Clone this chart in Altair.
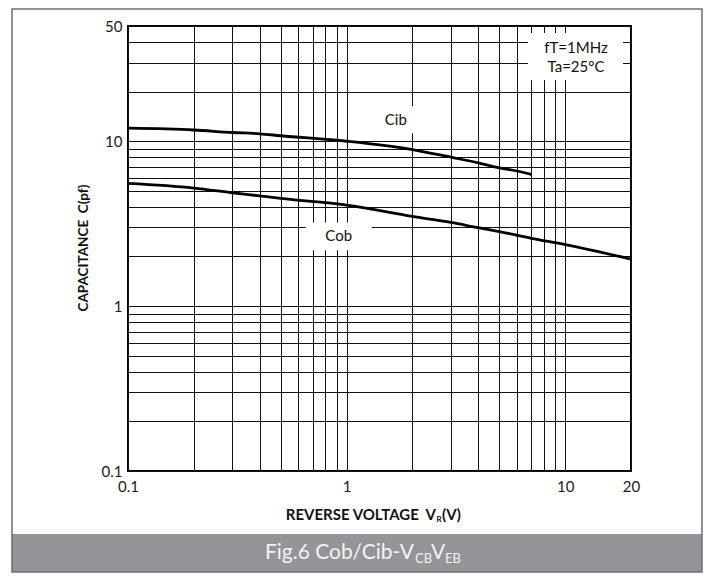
import altair as alt
import pandas as pd

# ---------------- data ----------------
cib_voltage = [0.1, 0.2, 0.3, 0.4, 0.5, 1, 2, 3, 4, 5, 6, 7]
cib_cap = [12.0, 11.7, 11.3, 11.1, 10.8, 10.0, 8.9, 8.0, 7.4, 6.9, 6.6, 6.3]

cob_voltage = [0.1, 0.2, 0.3, 0.4, 0.5, 1, 2, 3, 4, 5, 7, 10, 20]
cob_cap = [5.55, 5.2, 4.87, 4.66, 4.5, 4.1, 3.5, 3.22, 2.99, 2.83, 2.58, 2.36, 1.93]

x_domain = [0.1, 20]
y_domain = [0.1, 50]
x_grid = [0.1, 0.2, 0.3, 0.4, 0.5, 0.6, 0.7, 0.8, 0.9,
          1, 2, 3, 4, 5, 6, 7, 8, 9, 10, 20]
y_grid = [0.1, 0.2, 0.3, 0.4, 0.5, 0.6, 0.7, 0.8, 0.9,
          1, 2, 3, 4, 5, 6, 7, 8, 9, 10, 20, 30, 40, 50]
x_tick_labels = [0.1, 1, 10, 20]
y_tick_labels = [0.1, 1, 10, 50]

curve_names = ["Cib", "Cob"]
label_voltage = [1.68, 0.92]
label_cap = [13.5, 2.65]

condition_lines = ["fT=1MHz", "Ta=25\u00b0C"]
x_title = ["REVERSE VOLTAGE\u00a0\u00a0V", "R", "(V)"]
y_title = "CAPACITANCE\u00a0\u00a0C(pf)"
caption = ["Fig.6 Cob/Cib-V", "CB", "V", "EB"]

# ---------------- tables ----------------
curves = pd.concat([
    pd.DataFrame({"name": "Cib", "v": cib_voltage, "c": cib_cap}),
    pd.DataFrame({"name": "Cob", "v": cob_voltage, "c": cob_cap}),
], ignore_index=True)
labels = pd.DataFrame({"name": curve_names, "v": label_voltage, "c": label_cap})

FONT = "Lato"
W, H = 503, 445


def label_expr(vals):
    parts = [f"datum.value == {v} ? '{v:g}'" for v in vals]
    return " : ".join(parts) + " : ''"


xscale = alt.Scale(type="log", domain=x_domain, nice=False)
yscale = alt.Scale(type="log", domain=y_domain, nice=False)

common_axis = dict(title=None, ticks=False, domain=False, grid=True,
                   gridColor="#111111", gridWidth=1, gridOpacity=1,
                   labelFont=FONT, labelFontSize=15, labelColor="#1a1a1a",
                   labelFlush=False, labelOverlap=False, labelBound=False)

x_axis = alt.Axis(values=x_grid, labelExpr=label_expr(x_tick_labels),
                  labelPadding=8, **common_axis)
y_axis = alt.Axis(values=y_grid, labelExpr=label_expr(y_tick_labels),
                  labelPadding=6, **common_axis)

base = alt.Chart(curves)

lines = base.mark_line(color="black", strokeWidth=2.8, interpolate="monotone").encode(
    x=alt.X("v:Q", scale=xscale, axis=x_axis),
    y=alt.Y("c:Q", scale=yscale, axis=y_axis),
    detail="name:N",
)

one = alt.Data(values=[{"k": 1}])

# white patches behind curve labels
box_shape = "M-1,-0.56L1,-0.56L1,0.56L-1,0.56Z"
cib_box = alt.Chart(labels).transform_filter(alt.datum.name == "Cib").mark_point(
    shape=box_shape, filled=True, fill="white", opacity=1, strokeWidth=0, size=48 ** 2
).encode(x=alt.X("v:Q", scale=xscale), y=alt.Y("c:Q", scale=yscale))
cob_box_shape = "M-1,-0.42L1,-0.42L1,0.42L-1,0.42Z"
cob_box = alt.Chart(labels).transform_filter(alt.datum.name == "Cob").mark_point(
    shape=cob_box_shape, filled=True, fill="white", opacity=1, strokeWidth=0, size=66 ** 2
).encode(x=alt.X("v:Q", scale=xscale), y=alt.Y("c:Q", scale=yscale))

label_text = alt.Chart(labels).mark_text(
    font=FONT, fontSize=15, color="#111", align="center", baseline="middle"
).encode(x=alt.X("v:Q", scale=xscale), y=alt.Y("c:Q", scale=yscale), text="name:N")

# conditions box (top right)
cond_box = alt.Chart(one).mark_rect(fill="white").encode(
    x=alt.value(400), x2=alt.value(495), y=alt.value(7), y2=alt.value(54))
cond1 = alt.Chart(one).mark_text(text=condition_lines[0], font=FONT, fontSize=15,
                                 color="#111", align="center", baseline="middle").encode(
    x=alt.value(448), y=alt.value(22))
cond2 = alt.Chart(one).mark_text(text=condition_lines[1], font=FONT, fontSize=15,
                                 color="#111", align="center", baseline="middle").encode(
    x=alt.value(448), y=alt.value(41))

# axis titles
ytitle = alt.Chart(one).mark_text(text=y_title, angle=270, font=FONT, fontWeight="bold",
                                  fontSize=13.5, color="#111", align="center",
                                  baseline="middle").encode(x=alt.value(-44), y=alt.value(222))
xt1 = alt.Chart(one).mark_text(text=x_title[0], font=FONT, fontWeight="bold", fontSize=15,
                               color="#111", align="right", baseline="middle").encode(
    x=alt.value(308), y=alt.value(489))
xt2 = alt.Chart(one).mark_text(text=x_title[1], font=FONT, fontWeight="bold", fontSize=8,
                               color="#111", align="left", baseline="middle").encode(
    x=alt.value(308.5), y=alt.value(494))
xt3 = alt.Chart(one).mark_text(text=x_title[2], font=FONT, fontWeight="bold", fontSize=15,
                               color="#111", align="left", baseline="middle").encode(
    x=alt.value(314), y=alt.value(489))

# caption bar and frame
bar = alt.Chart(one).mark_rect(fill="#939598").encode(
    x=alt.value(-116), x2=alt.value(574), y=alt.value(508), y2=alt.value(546))
cap_color = "#f3f3f3"
c1 = alt.Chart(one).mark_text(text=caption[0], font=FONT, fontSize=21, color=cap_color,
                              align="right", baseline="middle").encode(
    x=alt.value(286), y=alt.value(527))
c2 = alt.Chart(one).mark_text(text=caption[1], font=FONT, fontSize=13, color=cap_color,
                              align="left", baseline="middle").encode(
    x=alt.value(287), y=alt.value(533))
c3 = alt.Chart(one).mark_text(text=caption[2], font=FONT, fontSize=21, color=cap_color,
                              align="left", baseline="middle").encode(
    x=alt.value(303), y=alt.value(527))
c4 = alt.Chart(one).mark_text(text=caption[3], font=FONT, fontSize=13, color=cap_color,
                              align="left", baseline="middle").encode(
    x=alt.value(317), y=alt.value(533))
frame = alt.Chart(one).mark_rect(fillOpacity=0, stroke="#6d6e71", strokeWidth=1.5).encode(
    x=alt.value(-116), x2=alt.value(574), y=alt.value(-17), y2=alt.value(546))

chart = alt.layer(
    cib_box, cob_box, lines, label_text, cond_box, cond1, cond2,
    ytitle, xt1, xt2, xt3, bar, c1, c2, c3, c4, frame
).properties(
    width=W, height=H,
    padding={"left": 120, "top": 18, "right": 73, "bottom": 102},
    autosize=alt.AutoSizeParams(type="none"),
).configure_view(
    stroke="black", strokeWidth=2
)

chart.save("out.html", embed_options={"renderer": "svg", "actions": False})
